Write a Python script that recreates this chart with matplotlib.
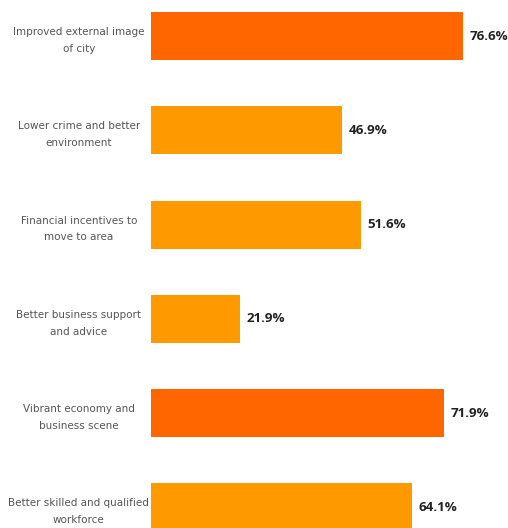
import matplotlib.pyplot as plt

# survey results: factors that would attract businesses
labels = ["Improved external image\nof city",
          "Lower crime and better\nenvironment",
          "Financial incentives to\nmove to area",
          "Better business support\nand advice",
          "Vibrant economy and\nbusiness scene",
          "Better skilled and qualified\nworkforce"]
values = [76.6, 46.9, 51.6, 21.9, 71.9, 64.1]
colors = ["#FF6600", "#FF9900", "#FF9900", "#FF9900", "#FF6600", "#FF9900"]

W, H = 508, 528
fig = plt.figure(figsize=(W / 100, H / 100), dpi=100)
ax = fig.add_axes([151 / W, 0, 357 / W, 1])

ypos = list(range(len(values)))
ax.barh(ypos, values, height=0.51, color=colors)
ax.set_xlim(0, 357 / 4.07)
ax.set_ylim(528 / 94.3 - 36 / 94.3, -36 / 94.3)

for y, v in zip(ypos, values):
    ax.text(v + 1.6, y, f"{v}%", va="center", ha="left",
            fontsize=9.6, fontweight="bold", family="Open Sans",
            color="#222222")

ax.set_yticks(ypos)
ax.set_yticklabels(labels, ha="center", multialignment="center",
                   fontsize=7.5, color="#555555", linespacing=1.85)
ax.tick_params(axis="y", length=0, pad=52)
ax.set_xticks([])
for s in ax.spines.values():
    s.set_visible(False)

fig.savefig("out.png", dpi=100)
